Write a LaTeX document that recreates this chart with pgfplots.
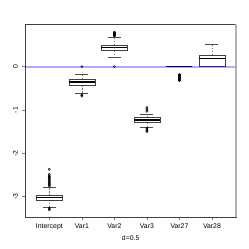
\documentclass[border=0pt]{standalone}
\usepackage{pgfplots}
\pgfplotsset{compat=1.18}
\usepgfplotslibrary{statistics}
\usepackage{fontspec}
\setmainfont{Liberation Sans}
\pgfplotsset{
  rbox/.style={
    solid, draw=black!75, line width=0.65bp,
    mark=o, mark size=1.1bp, mark options={solid,line width=0.4bp,draw=black},
    boxplot/box extend=0.8,
    boxplot/whisker extend=0.4,
    boxplot/every median/.style={line width=1.3bp,draw=black},
    boxplot/draw/lower whisker/.code={%
      \draw[black!55,line width=0.6bp,dash pattern=on 1.5bp off 1.5bp]
        (boxplot cs:\pgfplotsboxplotvalue{lower quartile}) --
        (boxplot cs:\pgfplotsboxplotvalue{lower whisker});
      \draw[black!70,line width=0.6bp]
        (boxplot whisker cs:\pgfplotsboxplotvalue{lower whisker},0) --
        (boxplot whisker cs:\pgfplotsboxplotvalue{lower whisker},1);
    },
    boxplot/draw/upper whisker/.code={%
      \draw[black!55,line width=0.6bp,dash pattern=on 1.5bp off 1.5bp]
        (boxplot cs:\pgfplotsboxplotvalue{upper quartile}) --
        (boxplot cs:\pgfplotsboxplotvalue{upper whisker});
      \draw[black!70,line width=0.6bp]
        (boxplot whisker cs:\pgfplotsboxplotvalue{upper whisker},0) --
        (boxplot whisker cs:\pgfplotsboxplotvalue{upper whisker},1);
    },
  }
}
\begin{document}
\begin{tikzpicture}
\path[use as bounding box,fill=white] (0,0) rectangle (249bp,249bp);
\begin{axis}[
  at={(25.3bp,31.7bp)}, anchor=south west,
  scale only axis, width=210.7bp, height=193bp,
  boxplot/draw direction=y,
  xmin=0.26, xmax=6.74, ymin=-3.48, ymax=0.98,
  axis line style={black!75,line width=0.6bp},
  xtick={1,2,3,4,5,6},
  xticklabels={Intercept,Var1,Var2,Var3,Var27,Var28},
  ytick={-3,-2,-1,0},
  yticklabels={-3,-2,-1,0},
  xtick pos=lower, ytick pos=left,
  tick align=outside,
  major tick length=3bp,
  tick style={black!50,line width=0.6bp},
  ticklabel style={font=\fontsize{6.9}{8}\selectfont},
  xticklabel style={anchor=base,inner sep=0pt,yshift=-8bp},
  yticklabel style={xshift=-4.5bp,rotate=90,anchor=base,inner sep=0pt},
  xlabel={d=0.5},
  xlabel style={font=\fontsize{6.9}{8}\selectfont,anchor=base,inner sep=0pt,at={(0.5,0)},yshift=-23.5bp},
  clip=false,
]
\addplot+[rbox, boxplot prepared={draw position=1, median=-3.03, lower quartile=-3.08, upper quartile=-2.98, lower whisker=-3.24, upper whisker=-2.79}]
  table[row sep=\\,y index=0] {-2.37\\ -2.48\\ -2.52\\ -2.54\\ -2.56\\ -2.58\\ -2.60\\ -2.62\\ -2.64\\ -2.66\\ -2.68\\ -2.70\\ -2.72\\ -2.74\\ -2.76\\ -3.27\\ -3.29\\ -3.31\\};
\addplot+[rbox, boxplot prepared={draw position=2, median=-0.355, lower quartile=-0.425, upper quartile=-0.29, lower whisker=-0.617, upper whisker=-0.177}]
  table[row sep=\\,y index=0] {0\\ -0.65\\ -0.665\\ -0.68\\};
\addplot+[rbox, boxplot prepared={draw position=3, median=0.44, lower quartile=0.37, upper quartile=0.50, lower whisker=0.217, upper whisker=0.69}]
  table[row sep=\\,y index=0] {0\\ 0.71\\ 0.72\\ 0.73\\ 0.74\\ 0.75\\ 0.76\\ 0.77\\ 0.79\\ 0.80\\};
\addplot+[rbox, boxplot prepared={draw position=4, median=-1.23, lower quartile=-1.29, upper quartile=-1.18, lower whisker=-1.40, upper whisker=-1.09}]
  table[row sep=\\,y index=0] {-0.94\\ -0.97\\ -1.00\\ -1.03\\ -1.42\\ -1.44\\ -1.46\\ -1.48\\ -1.50\\};
\addplot+[rbox, boxplot prepared={draw position=5, median=0, lower quartile=0, upper quartile=0, lower whisker=0, upper whisker=0}]
  table[row sep=\\,y index=0] {-0.18\\ -0.19\\ -0.20\\ -0.21\\ -0.22\\ -0.23\\ -0.24\\ -0.25\\ -0.26\\ -0.27\\ -0.28\\ -0.29\\ -0.30\\ -0.31\\ -0.32\\};
\addplot+[rbox, boxplot prepared={draw position=6, median=0.195, lower quartile=0, upper quartile=0.268, lower whisker=0, upper whisker=0.51}]
  coordinates {};
\addplot[blue, opacity=0.33, line width=1.6bp, no marks] coordinates {(0.26,0) (6.74,0)};
\addplot[black!30, line width=1.6bp, no marks] coordinates {(6.74,-3.48) (6.74,0.98)};
\end{axis}
\end{tikzpicture}
\end{document}
